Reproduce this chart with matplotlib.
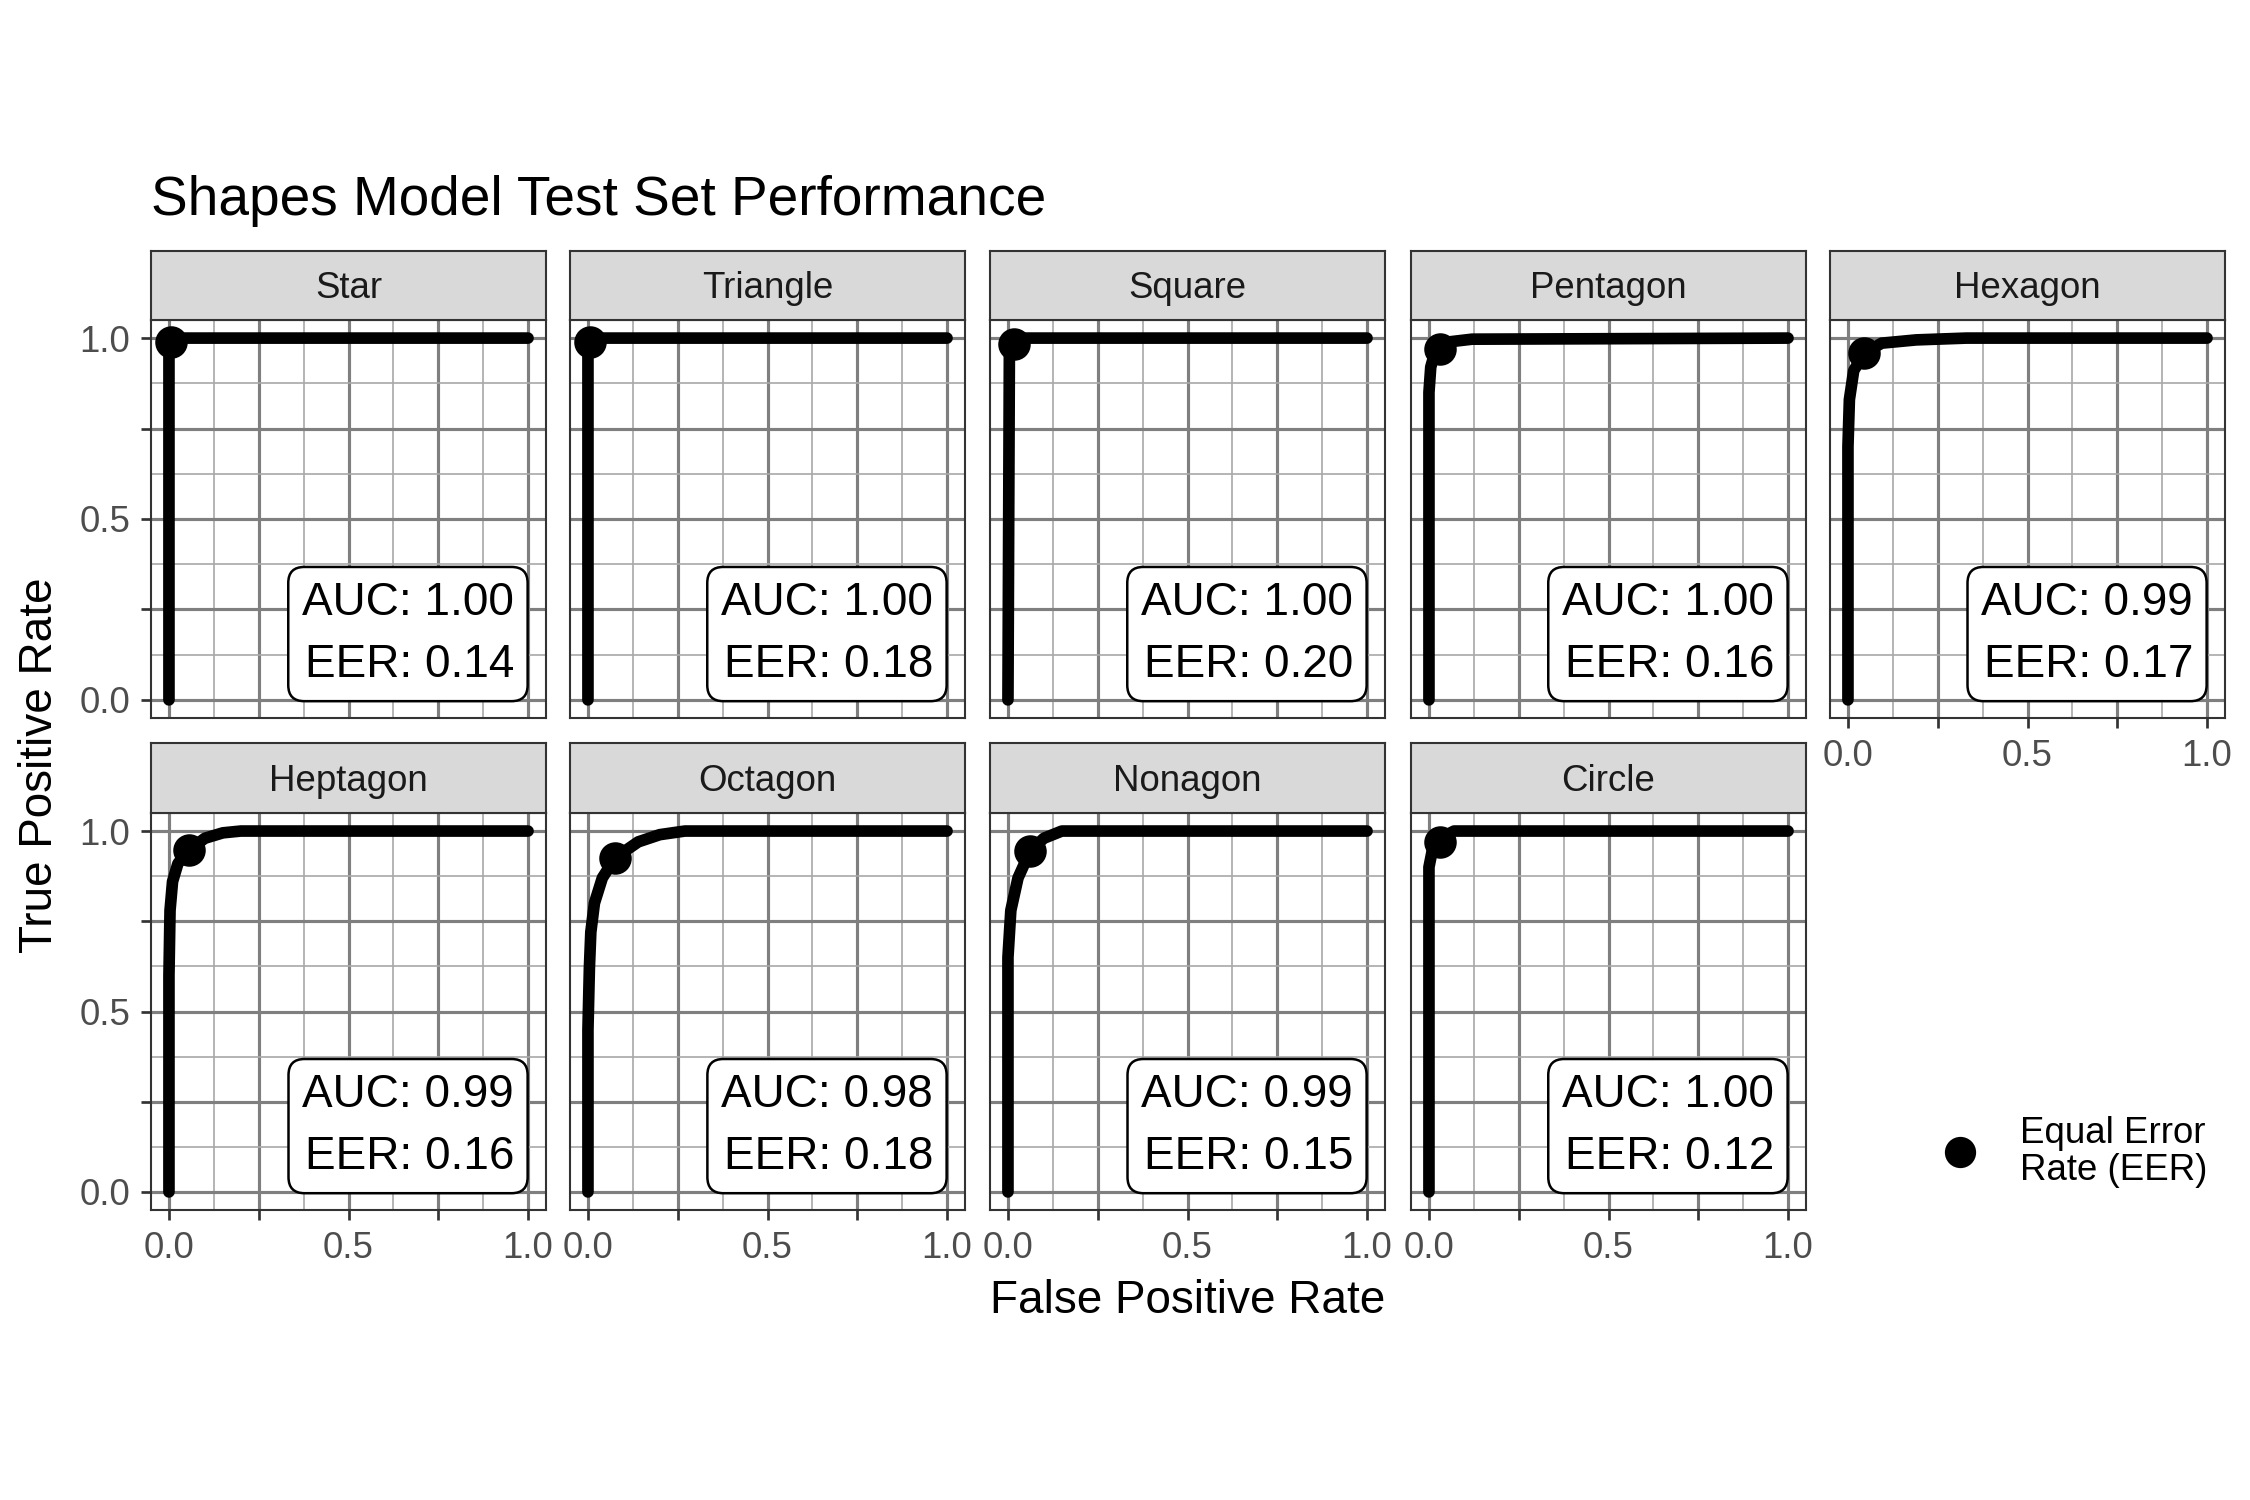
import matplotlib.pyplot as plt
from matplotlib.lines import Line2D
import numpy as np

# facet names and the summary numbers shown in each label box
shapes = ["Star", "Triangle", "Square", "Pentagon", "Hexagon",
          "Heptagon", "Octagon", "Nonagon", "Circle"]
auc = [1.00, 1.00, 1.00, 1.00, 0.99, 0.99, 0.98, 0.99, 1.00]
eer = [0.14, 0.18, 0.20, 0.16, 0.17, 0.16, 0.18, 0.15, 0.12]

# ROC curves (fpr, tpr per shape)
roc_fpr = [
    [0.0, 0.0, 0.005, 1.0],
    [0.0, 0.0, 0.005, 1.0],
    [0.0, 0.004, 0.016, 0.03, 1.0],
    [0.0, 0.0, 0.005, 0.015, 0.03, 0.06, 0.12, 1.0],
    [0.0, 0.0, 0.004, 0.016, 0.046, 0.094, 0.19, 0.33, 1.0],
    [0.0, 0.0, 0.003, 0.01, 0.025, 0.055, 0.1, 0.15, 0.2, 1.0],
    [0.0, 0.0, 0.004, 0.008, 0.018, 0.04, 0.076, 0.14, 0.2, 0.27, 1.0],
    [0.0, 0.0, 0.008, 0.028, 0.062, 0.1, 0.15, 1.0],
    [0.0, 0.0, 0.01, 0.03, 0.05, 0.07, 1.0],
]
roc_tpr = [
    [0.0, 0.99, 1.0, 1.0],
    [0.0, 0.99, 1.0, 1.0],
    [0.0, 0.97, 0.985, 1.0, 1.0],
    [0.0, 0.85, 0.92, 0.955, 0.97, 0.99, 0.997, 1.0],
    [0.0, 0.7, 0.83, 0.91, 0.959, 0.986, 0.995, 1.0, 1.0],
    [0.0, 0.6, 0.78, 0.86, 0.91, 0.947, 0.98, 0.995, 1.0, 1.0],
    [0.0, 0.45, 0.62, 0.72, 0.8, 0.87, 0.926, 0.97, 0.99, 1.0, 1.0],
    [0.0, 0.65, 0.78, 0.87, 0.945, 0.98, 1.0, 1.0],
    [0.0, 0.9, 0.95, 0.97, 0.99, 1.0, 1.0],
]
# equal error rate operating points
eer_fpr = [0.005, 0.005, 0.016, 0.03, 0.046, 0.055, 0.076, 0.062, 0.03]
eer_tpr = [0.99, 0.99, 0.985, 0.97, 0.959, 0.947, 0.926, 0.945, 0.97]

plt.rcParams['font.family'] = ['Liberation Sans', 'DejaVu Sans']

W, H = 2250, 1500
fig = plt.figure(figsize=(7.5, 5), dpi=300)

col_left = [151, 570, 990, 1411, 1830]
panel_w = 395
panel_top = [320, 813]
panel_bot = [718, 1210]
strip_top = [251, 743]

major = [0, 0.25, 0.5, 0.75, 1.0]
minor = [0.125, 0.375, 0.625, 0.875]
lab = ['0.0', '', '0.5', '', '1.0']

for i, name in enumerate(shapes):
    r, c = divmod(i, 5)
    x0 = col_left[c] / W
    ax = fig.add_axes([x0, 1 - panel_bot[r] / H, panel_w / W,
                       (panel_bot[r] - panel_top[r]) / H])
    ax.set_xlim(-0.05, 1.05)
    ax.set_ylim(-0.05, 1.05)
    ax.set_xticks(major)
    ax.set_yticks(major)
    ax.set_xticks(minor, minor=True)
    ax.set_yticks(minor, minor=True)
    ax.set_xticklabels(lab)
    ax.set_yticklabels(lab)
    ax.grid(which='major', color='#7f7f7f', lw=0.75)
    ax.grid(which='minor', color='#a8a8a8', lw=0.4)
    ax.set_axisbelow(True)
    ax.tick_params(which='minor', length=0)
    ax.tick_params(which='major', length=2.5, width=0.65, color='#333333',
                   labelsize=8.8, labelcolor='#4d4d4d', pad=2.5)
    show_x = r == 1 or c == 4
    show_y = c == 0
    ax.tick_params(axis='x', bottom=show_x, labelbottom=show_x)
    ax.tick_params(axis='y', left=show_y, labelleft=show_y)
    for s in ax.spines.values():
        s.set_color('#333333')
        s.set_linewidth(0.5)

    ax.plot(roc_fpr[i], roc_tpr[i], color='black', lw=2.8,
            solid_capstyle='round', solid_joinstyle='round', zorder=3)
    ax.plot([eer_fpr[i]], [eer_tpr[i]], 'o', color='black', ms=6.8, zorder=4)

    ax.annotate(f"AUC: {auc[i]:.2f}\nEER: {eer[i]:.2f}", xy=(1.0, 0.0),
                xycoords='data', xytext=(-3.4, 3.0), textcoords='offset points',
                ha='right', va='bottom', fontsize=11, linespacing=1.55,
                zorder=5,
                bbox=dict(boxstyle='round,pad=0.3,rounding_size=0.35',
                          fc='white', ec='black', lw=0.6))

    # facet strip
    sax = fig.add_axes([x0, 1 - panel_top[r] / H, panel_w / W,
                        (panel_top[r] - strip_top[r]) / H])
    sax.set_facecolor('#d9d9d9')
    sax.set_xticks([])
    sax.set_yticks([])
    for s in sax.spines.values():
        s.set_color('#333333')
        s.set_linewidth(0.5)
    sax.text(0.5, 0.45, name, ha='center', va='center', fontsize=8.8,
             color='#1a1a1a', transform=sax.transAxes)

fig.text(151 / W, 1 - 215 / H, "Shapes Model Test Set Performance",
         fontsize=13.2, ha='left', va='baseline')
fig.text(1188 / W, 1 - 1313 / H, "False Positive Rate", fontsize=11,
         ha='center', va='baseline')
fig.text(40 / W, 1 - 765 / H, "True Positive Rate", fontsize=11,
         ha='center', va='center', rotation=90)

# legend for the EER point
fig.add_artist(Line2D([1960 / W], [1 - 1152 / H], marker='o', color='black',
                      ms=6.5, lw=0, transform=fig.transFigure))
fig.text(2020 / W, 1 - 1152 / H, "Equal Error\nRate (EER)", fontsize=8.8,
         ha='left', va='center', linespacing=1.1)

fig.savefig("out.png", dpi=300, facecolor='white')
